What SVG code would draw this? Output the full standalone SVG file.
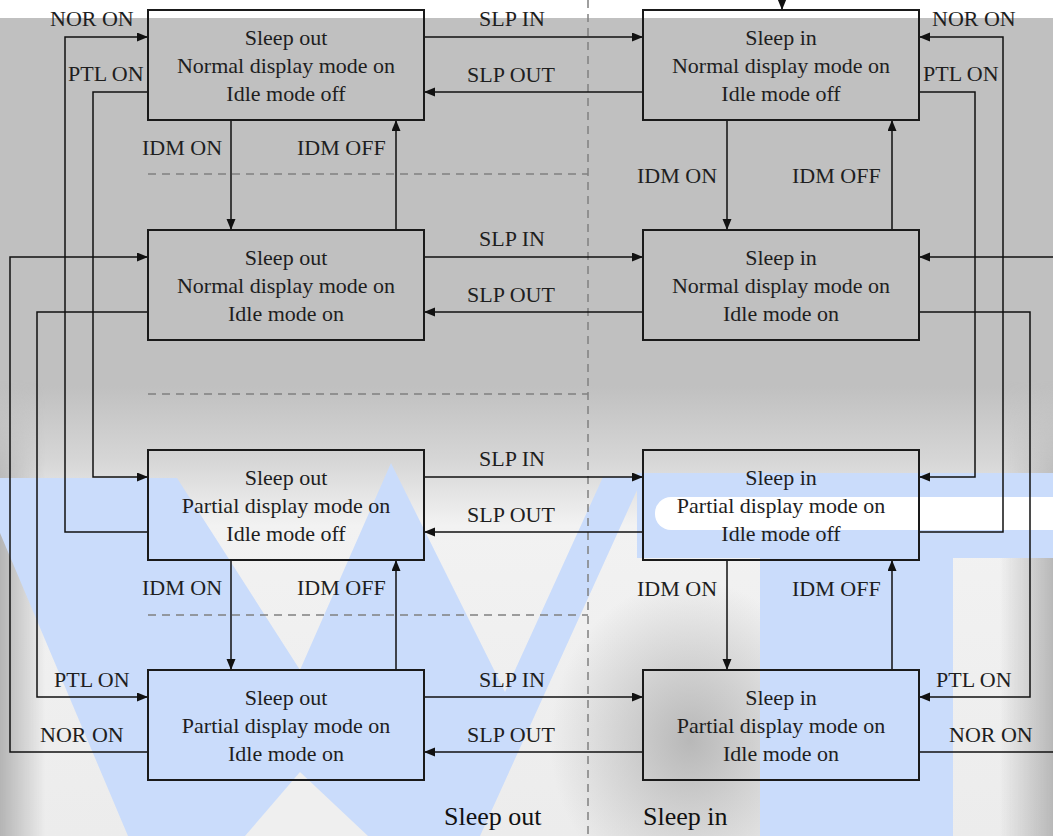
<svg xmlns="http://www.w3.org/2000/svg" width="1053" height="836" viewBox="0 0 1053 836" font-family="'Liberation Serif', 'Times New Roman', serif">
<defs>
<linearGradient id="bgV" x1="0" y1="18" x2="0" y2="836" gradientUnits="userSpaceOnUse">
<stop offset="0" stop-color="#c0c0c0"/>
<stop offset="0.45" stop-color="#c0c0c0"/>
<stop offset="0.54" stop-color="#d6d6d6"/>
<stop offset="0.62" stop-color="#f2f2f2"/>
<stop offset="1" stop-color="#ececec"/>
</linearGradient>
<linearGradient id="edgeL" x1="0" y1="0" x2="45" y2="0" gradientUnits="userSpaceOnUse">
<stop offset="0" stop-color="#b4b4b4"/>
<stop offset="1" stop-color="#b4b4b4" stop-opacity="0"/>
</linearGradient>
<linearGradient id="edgeR" x1="1053" y1="0" x2="1000" y2="0" gradientUnits="userSpaceOnUse">
<stop offset="0" stop-color="#b8b8b8"/>
<stop offset="1" stop-color="#b8b8b8" stop-opacity="0"/>
</linearGradient>
<linearGradient id="fadeTop" x1="0" y1="0" x2="0" y2="1">
<stop offset="0" stop-color="#fff" stop-opacity="0"/>
<stop offset="0.25" stop-color="#fff" stop-opacity="1"/>
<stop offset="1" stop-color="#fff" stop-opacity="1"/>
</linearGradient>
<mask id="edgeMask">
<rect x="0" y="380" width="1053" height="456" fill="url(#fadeTop)"/>
</mask>
<radialGradient id="blob" cx="0.5" cy="0.5" r="0.5">
<stop offset="0" stop-color="#b8b8b8"/>
<stop offset="1" stop-color="#b8b8b8" stop-opacity="0"/>
</radialGradient>
<marker id="ah" markerWidth="12" markerHeight="10" refX="11" refY="4.5" orient="auto" markerUnits="userSpaceOnUse">
<path d="M0,0 L11,4.5 L0,9 Z" fill="#111"/>
</marker>
<style>
text{font-family:"Liberation Serif","Times New Roman",serif;font-size:22px;fill:#1e1e1e}
.c{text-anchor:middle}
.box{fill:none;stroke:#1a1a1a;stroke-width:2}
.ln{fill:none;stroke:#111;stroke-width:1.5}
.ar{marker-end:url(#ah)}
.dash{fill:none;stroke:#808080;stroke-width:1.5;stroke-dasharray:8 6}
.foot{font-size:26px;fill:#111}
.wm{fill:#cadcfb}
</style>
</defs>

<g id="background">
<rect x="0" y="0" width="1053" height="836" fill="#ffffff"/>
<rect x="0" y="18" width="1053" height="818" fill="url(#bgV)"/>
<ellipse cx="690" cy="740" rx="140" ry="160" fill="url(#blob)"/>
<g mask="url(#edgeMask)">
<rect x="0" y="380" width="45" height="456" fill="url(#edgeL)"/>
<rect x="1000" y="380" width="53" height="456" fill="url(#edgeR)"/>
</g>
<polygon class="wm" points="0,478 177,478 300,670 391,463 505,692 603,477 643,477 480,836 128,836 0,533"/>
<polygon points="245,836 300,772 368,836" fill="#efefef"/>
<rect class="wm" x="637" y="473" width="416" height="85"/>
<rect x="655" y="497" width="420" height="33" rx="16" fill="#ffffff"/>
<rect class="wm" x="760" y="558" width="193" height="278"/>
</g>

<g id="dividers">
<line class="dash" x1="588" y1="0" x2="588" y2="836"/>
<line class="dash" x1="148" y1="174" x2="588" y2="174"/>
<line class="dash" x1="148" y1="394" x2="588" y2="394"/>
<line class="dash" x1="148" y1="615" x2="588" y2="615"/>
</g>

<g id="connectors">
<line class="ln ar" x1="782" y1="0" x2="782" y2="10"/>
<line class="ln ar" x1="424" y1="37" x2="643" y2="37"/>
<line class="ln ar" x1="643" y1="92" x2="424" y2="92"/>
<line class="ln ar" x1="424" y1="257" x2="643" y2="257"/>
<line class="ln ar" x1="643" y1="312" x2="424" y2="312"/>
<line class="ln ar" x1="424" y1="477" x2="643" y2="477"/>
<line class="ln ar" x1="643" y1="532" x2="424" y2="532"/>
<line class="ln ar" x1="424" y1="697" x2="643" y2="697"/>
<line class="ln ar" x1="643" y1="752" x2="424" y2="752"/>
<line class="ln ar" x1="231" y1="120" x2="231" y2="230"/>
<line class="ln ar" x1="396" y1="230" x2="396" y2="120"/>
<line class="ln ar" x1="727" y1="120" x2="727" y2="230"/>
<line class="ln ar" x1="892" y1="230" x2="892" y2="120"/>
<line class="ln ar" x1="231" y1="560" x2="231" y2="670"/>
<line class="ln ar" x1="396" y1="670" x2="396" y2="560"/>
<line class="ln ar" x1="727" y1="560" x2="727" y2="670"/>
<line class="ln ar" x1="892" y1="670" x2="892" y2="560"/>
<path class="ln ar" d="M148,532 H65 V37 H148"/>
<path class="ln ar" d="M148,92 H93 V477 H148"/>
<path class="ln ar" d="M148,752 H10 V257 H148"/>
<path class="ln ar" d="M148,312 H37 V697 H148"/>
<path class="ln ar" d="M919,532 H1003 V37 H919"/>
<path class="ln ar" d="M919,92 H975 V477 H919"/>
<path class="ln ar" d="M1053,257 H919"/>
<path class="ln ar" d="M919,312 H1030 V697 H919"/>
<path class="ln" d="M919,752 H1053"/>
</g>

<g id="labels">
<text x="50" y="26">NOR ON</text>
<text x="68" y="81">PTL ON</text>
<text x="932" y="26">NOR ON</text>
<text x="923" y="81">PTL ON</text>
<text x="54" y="687">PTL ON</text>
<text x="40" y="742">NOR ON</text>
<text x="936" y="687">PTL ON</text>
<text x="949" y="742">NOR ON</text>
<text class="c" x="512" y="26">SLP IN</text>
<text class="c" x="511" y="82">SLP OUT</text>
<text class="c" x="512" y="246">SLP IN</text>
<text class="c" x="511" y="302">SLP OUT</text>
<text class="c" x="512" y="466">SLP IN</text>
<text class="c" x="511" y="522">SLP OUT</text>
<text class="c" x="512" y="687">SLP IN</text>
<text class="c" x="511" y="742">SLP OUT</text>
<text x="142" y="155">IDM ON</text>
<text x="297" y="155">IDM OFF</text>
<text x="637" y="183">IDM ON</text>
<text x="792" y="183">IDM OFF</text>
<text x="142" y="595">IDM ON</text>
<text x="297" y="595">IDM OFF</text>
<text x="637" y="596">IDM ON</text>
<text x="792" y="596">IDM OFF</text>
<text class="foot" x="444" y="825">Sleep out</text>
<text class="foot" x="643" y="825">Sleep in</text>
</g>

<g id="node-out-nor-idleoff">
<rect class="box" x="148" y="10" width="276" height="110"/>
<text class="c" x="286" y="45">Sleep out</text>
<text class="c" x="286" y="73">Normal display mode on</text>
<text class="c" x="286" y="101">Idle mode off</text>
</g>
<g id="node-in-nor-idleoff">
<rect class="box" x="643" y="10" width="276" height="110"/>
<text class="c" x="781" y="45">Sleep in</text>
<text class="c" x="781" y="73">Normal display mode on</text>
<text class="c" x="781" y="101">Idle mode off</text>
</g>
<g id="node-out-nor-idleon">
<rect class="box" x="148" y="230" width="276" height="110"/>
<text class="c" x="286" y="265">Sleep out</text>
<text class="c" x="286" y="293">Normal display mode on</text>
<text class="c" x="286" y="321">Idle mode on</text>
</g>
<g id="node-in-nor-idleon">
<rect class="box" x="643" y="230" width="276" height="110"/>
<text class="c" x="781" y="265">Sleep in</text>
<text class="c" x="781" y="293">Normal display mode on</text>
<text class="c" x="781" y="321">Idle mode on</text>
</g>
<g id="node-out-ptl-idleoff">
<rect class="box" x="148" y="450" width="276" height="110"/>
<text class="c" x="286" y="485">Sleep out</text>
<text class="c" x="286" y="513">Partial display mode on</text>
<text class="c" x="286" y="541">Idle mode off</text>
</g>
<g id="node-in-ptl-idleoff">
<rect class="box" x="643" y="450" width="276" height="110"/>
<text class="c" x="781" y="485">Sleep in</text>
<text class="c" x="781" y="513">Partial display mode on</text>
<text class="c" x="781" y="541">Idle mode off</text>
</g>
<g id="node-out-ptl-idleon">
<rect class="box" x="148" y="670" width="276" height="110"/>
<text class="c" x="286" y="705">Sleep out</text>
<text class="c" x="286" y="733">Partial display mode on</text>
<text class="c" x="286" y="761">Idle mode on</text>
</g>
<g id="node-in-ptl-idleon">
<rect class="box" x="643" y="670" width="276" height="110"/>
<text class="c" x="781" y="705">Sleep in</text>
<text class="c" x="781" y="733">Partial display mode on</text>
<text class="c" x="781" y="761">Idle mode on</text>
</g>
</svg>
